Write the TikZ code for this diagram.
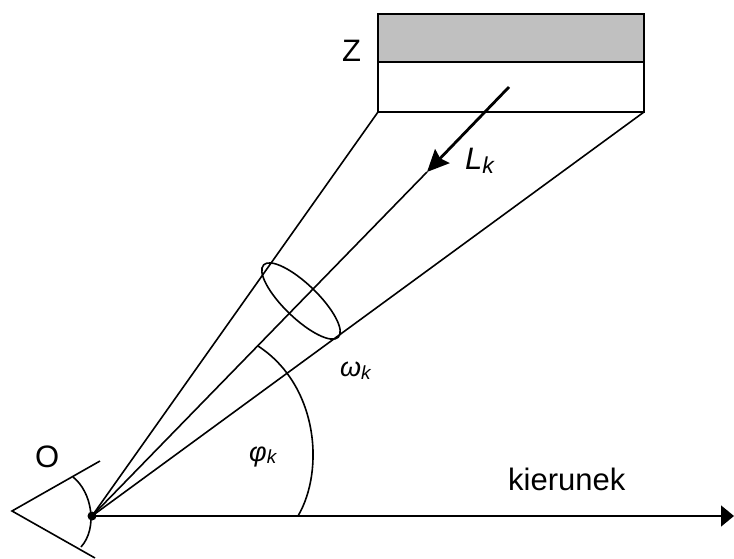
\documentclass[tikz,border=0pt]{standalone}
\usepackage{fontspec}
\setmainfont{Liberation Sans}
\usetikzlibrary{arrows.meta}
\definecolor{zgray}{RGB}{192,192,192}
\begin{document}
\begin{tikzpicture}[x=1pt,y=-1pt,
  ln/.style={line width=1.6pt},
  lbl/.style={inner sep=0pt, anchor=base west, font=\fontsize{31}{31}\selectfont},
  glbl/.style={inner sep=0pt, anchor=base west, font=\fontsize{27}{27}\selectfont}]
\useasboundingbox (0,0) rectangle (734,559);
% screen box
\draw[ln, fill=zgray] (378,14) rectangle (644,62);
\draw[ln] (378,62) rectangle (644,112);
\coordinate (BL) at (378,112);
\coordinate (BR) at (644,112);
% observer point
\node[circle, fill, inner sep=0pt, minimum size=9pt] (O) at (92,516) {};
\coordinate (L0) at (509,87);
\coordinate (L1) at (427,172);
\coordinate (E) at (734,516);
\draw[ln] (O.center) -- (BL);
\draw[ln] (O.center) -- (BR);
\draw[ln] (O.center) -- (L1);
\draw[line width=2.8pt, -{Stealth[length=22pt,width=20pt,inset=3pt]}] (L0) -- (L1);
\draw[ln, -{Triangle[length=13pt,width=21pt]}] (O.center) -- (E);
% solid angle ellipse
\coordinate (C) at (301,301);
\draw[ln, rotate around={-44:(C)}] (C) ellipse [x radius=52, y radius=17];
% angle phi arc
\coordinate (P0) at (298,516);
\coordinate (P3) at (258,346);
\draw[ln] (P0) .. controls (325,470) and (318,385) .. (P3);
% eye
\coordinate (EV) at (12,511);
\coordinate (EU) at (100,461);
\coordinate (ED) at (95,558);
\draw[ln] (EU) -- (EV) -- (ED);
\coordinate (A0) at (73,477);
\coordinate (A3) at (81,547);
\draw[ln] (A0) .. controls (92,492) and (98,528) .. (A3);
% labels
\node[lbl] (Zl) at (342,62) {Z};
\node[lbl] (Ol) at (35,467) {O};
\node[lbl] (kier) at (508,490) {kierunek};
\node[lbl] (Lk) at (465,170) {\textit{L}\raisebox{-4pt}{\fontsize{23}{23}\selectfont\textit{k}}};
\node[glbl] (wk) at (340,376) {\textit{ω}\raisebox{-3pt}{\fontsize{19}{19}\selectfont\textit{k}}};
\node[glbl] (pk) at (249,461) {\textit{φ}\raisebox{-2pt}{\fontsize{19}{19}\selectfont\textit{k}}};
\end{tikzpicture}
\end{document}
